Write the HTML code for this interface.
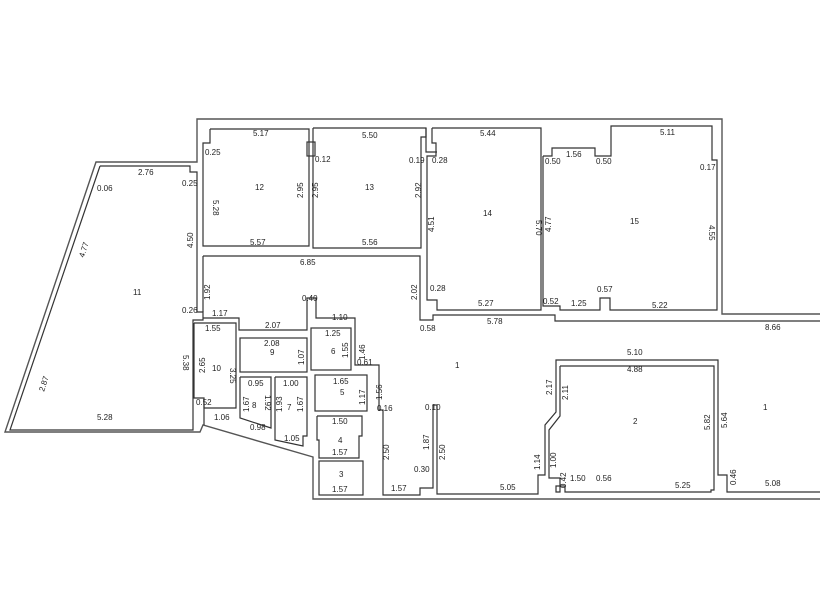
<!DOCTYPE html>
<html><head><meta charset="utf-8"><style>
html,body{margin:0;padding:0;background:#fff}
svg{display:block}
text{font-family:"Liberation Sans",sans-serif;font-size:8px;fill:#222}
.l{fill:none;stroke:#333;stroke-width:1.2}
.o{fill:none;stroke:#555;stroke-width:1.4}
</style></head><body>
<svg width="820" height="600" viewBox="0 0 820 600" xmlns="http://www.w3.org/2000/svg">
<polyline class="o" points="820,314 722,314 722,119 197,119 197,162 96,162 5,432 200,432 203,425 313,457 313,499 820,499"/>
<polyline class="l" points="100,166 190,166 190,172 197,172 197,312 203,312 203,320 193,320 193,430 10,430 100,166"/>
<polyline class="l" points="210,129 309,129 309,246 203,246 203,143 210,143 210,129"/>
<polyline class="l" points="313,128 426,128 426,137 421,137 421,248 313,248 313,128"/>
<rect class="l" x="307" y="142" width="8" height="14"/>
<polyline class="l" points="432,128 541,128 541,310 437,310 437,300 427,300 427,156 436,156 436,143 432,143 432,128"/>
<polyline class="l" points="426,128 426,152 437,152"/>
<polyline class="l" points="543,156 552,156 552,148 595,148 595,156 611,156 611,126 712,126 712,160 717,160 717,310 610,310 610,298 600,298 600,310 560,310 560,306 543,306 543,156"/>
<polyline class="l" points="203,256 420,256 420,320 433,320 433,315 555,315 555,321 820,321"/>
<polyline class="l" points="203,256 203,312"/>
<polyline class="l" points="203,318 239,318 239,330 307,330 307,298 316,298 316,318 355,318 355,365 379,365 379,410 383,410 383,495 420,495 420,488 433,488 433,405 437,405 437,494 538,494 538,475 545,475 545,425 556,412 556,360 718,360 718,475 727,475 727,492 820,492"/>
<polyline class="l" points="560,366 714,366 714,490 711,490 711,492 565,492 565,486 556,486 556,492 560,492 560,478 549,478 549,430 560,416 560,366"/>
<polyline class="l" points="194,323 236,323 236,408 204,408 204,398 194,398 194,323"/>
<polyline class="l" points="204,405 204,425"/>
<rect class="l" x="240" y="338" width="67" height="34"/>
<polyline class="l" points="240,377 271,377 271,428 240,418 240,377"/>
<polyline class="l" points="275,377 307,377 307,436 303,436 303,446 275,440 275,377"/>
<rect class="l" x="311" y="328" width="40" height="42"/>
<rect class="l" x="315" y="375" width="52" height="36"/>
<polyline class="l" points="317,416 362,416 362,436 359,436 359,458 319,458 319,440 317,440 317,416"/>
<rect class="l" x="319" y="461" width="44" height="34"/>
<g>
<text x="133" y="295">11</text><text x="255" y="190">12</text><text x="365" y="190">13</text><text x="483" y="216">14</text><text x="630" y="224">15</text>
<text x="455" y="368">1</text><text x="633" y="424">2</text><text x="763" y="410">1</text>
<text x="212" y="371">10</text><text x="270" y="355">9</text><text x="252" y="408">8</text><text x="287" y="410">7</text>
<text x="331" y="354">6</text><text x="340" y="395">5</text><text x="338" y="443">4</text><text x="339" y="477">3</text>
<text x="253" y="136">5.17</text><text x="362" y="138">5.50</text><text x="480" y="136">5.44</text><text x="660" y="135">5.11</text>
<text x="250" y="245">5.57</text><text x="362" y="245">5.56</text><text x="478" y="306">5.27</text><text x="652" y="308">5.22</text>
<text x="138" y="175">2.76</text><text x="300" y="265">6.85</text><text x="487" y="324">5.78</text><text x="765" y="330">8.66</text>
<text x="627" y="355">5.10</text><text x="627" y="372">4.88</text><text x="500" y="490">5.05</text><text x="675" y="488">5.25</text><text x="765" y="486">5.08</text>
<text x="97" y="420">5.28</text><text x="212" y="316">1.17</text><text x="265" y="328">2.07</text><text x="302" y="301">0.40</text><text x="332" y="320">1.10</text>
<text x="205" y="331">1.55</text><text x="264" y="346">2.08</text><text x="325" y="336">1.25</text><text x="333" y="384">1.65</text><text x="332" y="424">1.50</text>
<text x="332" y="455">1.57</text><text x="332" y="492">1.57</text><text x="391" y="491">1.57</text><text x="248" y="386">0.95</text><text x="283" y="386">1.00</text>
<text x="250" y="430">0.98</text><text x="284" y="441">1.05</text><text x="196" y="405">0.52</text><text x="214" y="420">1.06</text>
<text x="205" y="155">0.25</text><text x="315" y="162">0.12</text><text x="409" y="163">0.19</text><text x="432" y="163">0.28</text>
<text x="545" y="164">0.50</text><text x="566" y="157">1.56</text><text x="596" y="164">0.50</text><text x="700" y="170">0.17</text>
<text x="430" y="291">0.28</text><text x="543" y="304">0.52</text><text x="571" y="306">1.25</text><text x="597" y="292">0.57</text>
<text x="97" y="191">0.06</text><text x="182" y="186">0.25</text><text x="182" y="313">0.26</text><text x="420" y="331">0.58</text>
<text x="357" y="365">0.61</text><text x="377" y="411">0.16</text><text x="425" y="410">0.10</text><text x="414" y="472">0.30</text>
<text x="570" y="481">1.50</text><text x="596" y="481">0.56</text>
</g>
<g>
<text transform="translate(213,200) rotate(90)">5.28</text>
<text transform="translate(303,198) rotate(-90)">2.95</text>
<text transform="translate(318,198) rotate(-90)">2.95</text>
<text transform="translate(421,198) rotate(-90)">2.92</text>
<text transform="translate(434,232) rotate(-90)">4.51</text>
<text transform="translate(536,220) rotate(90)">5.70</text>
<text transform="translate(551,232) rotate(-90)">4.77</text>
<text transform="translate(709,225) rotate(90)">4.55</text>
<text transform="translate(193,248) rotate(-90)">4.50</text>
<text transform="translate(210,300) rotate(-90)">1.92</text>
<text transform="translate(417,300) rotate(-90)">2.02</text>
<text transform="translate(183,355) rotate(90)">5.38</text>
<text transform="translate(84,258) rotate(-72)">4.77</text>
<text transform="translate(44,392) rotate(-72)">2.87</text>
<text transform="translate(205,373) rotate(-90)">2.65</text>
<text transform="translate(230,368) rotate(90)">3.25</text>
<text transform="translate(304,365) rotate(-90)">1.07</text>
<text transform="translate(249,412) rotate(-90)">1.67</text>
<text transform="translate(265,395) rotate(90)">1.92</text>
<text transform="translate(282,412) rotate(-90)">1.93</text>
<text transform="translate(303,412) rotate(-90)">1.67</text>
<text transform="translate(348,358) rotate(-90)">1.55</text>
<text transform="translate(365,360) rotate(-90)">1.46</text>
<text transform="translate(365,405) rotate(-90)">1.17</text>
<text transform="translate(382,400) rotate(-90)">1.56</text>
<text transform="translate(389,460) rotate(-90)">2.50</text>
<text transform="translate(429,450) rotate(-90)">1.87</text>
<text transform="translate(445,460) rotate(-90)">2.50</text>
<text transform="translate(552,395) rotate(-90)">2.17</text>
<text transform="translate(568,400) rotate(-90)">2.11</text>
<text transform="translate(540,470) rotate(-90)">1.14</text>
<text transform="translate(556,468) rotate(-90)">1.00</text>
<text transform="translate(710,430) rotate(-90)">5.82</text>
<text transform="translate(727,428) rotate(-90)">5.64</text>
<text transform="translate(736,485) rotate(-90)">0.46</text>
<text transform="translate(566,488) rotate(-90)">0.42</text>
</g>
</svg>
</body></html>
